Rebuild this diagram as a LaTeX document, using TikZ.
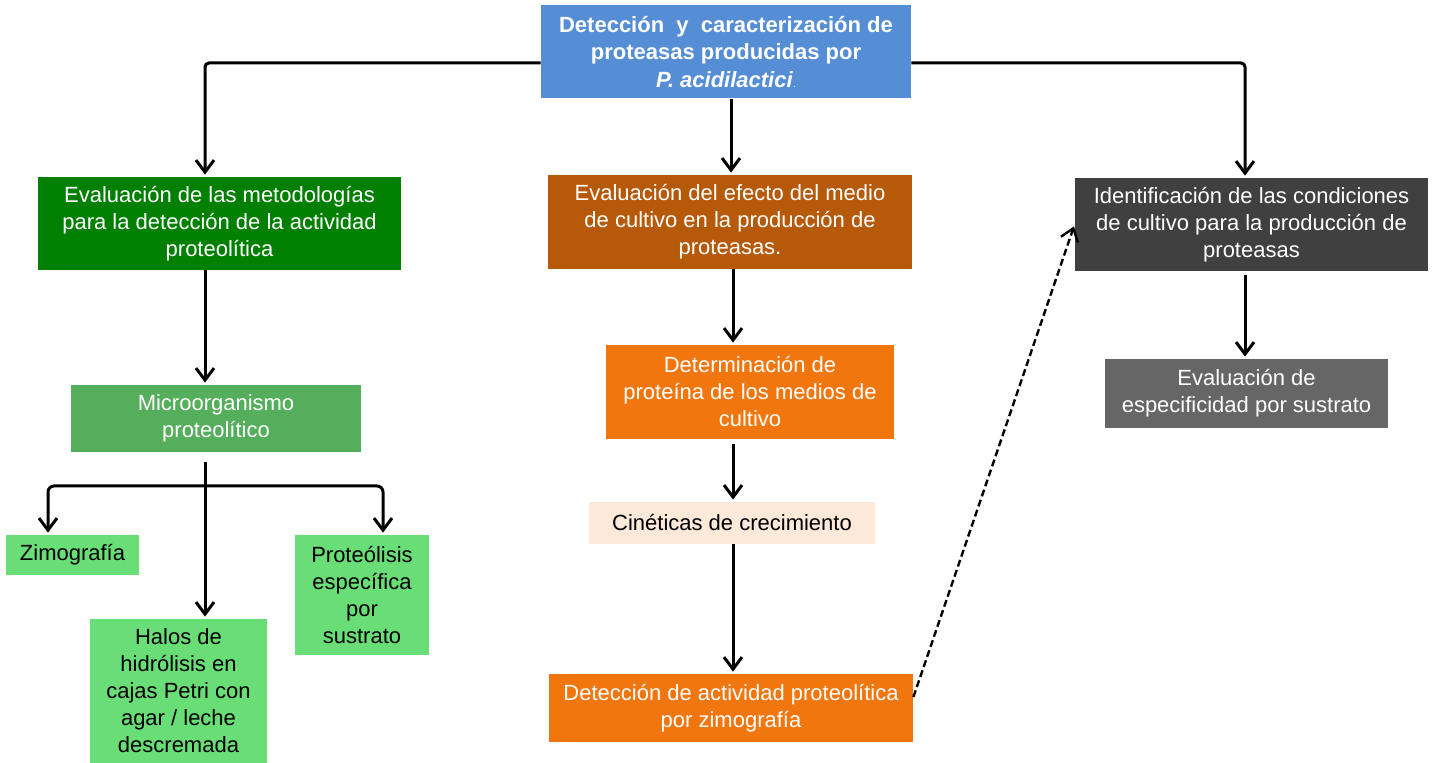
\documentclass[tikz,border=0pt]{standalone}
\usepackage{fontspec}
\setmainfont{Liberation Sans}
\usetikzlibrary{arrows.meta,calc}
\definecolor{cTop}{HTML}{558ED5}
\definecolor{cGreenD}{HTML}{007F00}
\definecolor{cGreenM}{HTML}{55AE5C}
\definecolor{cGreenL}{HTML}{6ADE76}
\definecolor{cBrown}{HTML}{B65A0A}
\definecolor{cOrange}{HTML}{F2760E}
\definecolor{cPeach}{HTML}{FDE9D9}
\definecolor{cGrayD}{HTML}{404040}
\definecolor{cGrayM}{HTML}{666666}
\begin{document}
\begin{tikzpicture}[x=0.5pt,y=-0.5pt,
  barb/.tip={Straight Barb[length=6pt,width=9pt]},
  box/.style={rectangle, inner sep=0pt, align=center, font=\fontsize{11}{13.5}\selectfont},
  wbox/.style={box, text=white},
  kbox/.style={box, text=black},
  arr/.style={line width=1.5pt, -barb, shorten >=1pt},
  conn/.style={line width=1.5pt}]
\useasboundingbox (0,0) rectangle (1434,763);

% nodes
\node[wbox, fill=cTop, minimum width=185pt, minimum height=46.5pt, font=\fontsize{11}{13.75}\selectfont\bfseries] (T) at (726,52)
  {Detección\ \ y\ \ caracterización de\\ proteasas producidas por\\ \textit{P. acidilactici}{\mdseries\tiny .}};

\node[wbox, fill=cGreenD, minimum width=181.5pt, minimum height=46.5pt] (A) at (219.5,223.5)
  {Evaluación de las metodologías\\ para la detección de la actividad\\ proteolítica};
\node[wbox, fill=cGreenM, minimum width=145pt, minimum height=33.5pt] (B) at (216,418.5)
  {Microorganismo\\ proteolítico};
\node[kbox, fill=cGreenL, minimum width=66.5pt, minimum height=20pt] (Z) at (72.5,555)
  {Zimografía};
\node[kbox, fill=cGreenL, minimum width=88.5pt, minimum height=72pt] (Hal) at (178.5,691)
  {Halos de\\ hidrólisis en\\ cajas Petri con\\ agar / leche\\ descremada};
\node[kbox, fill=cGreenL, minimum width=67pt, minimum height=60pt] (P) at (362,595)
  {Proteólisis\\ específica\\ por\\ sustrato};

\node[wbox, fill=cBrown, minimum width=182pt, minimum height=47pt] (C) at (730,222)
  {Evaluación del efecto del medio\\ de cultivo en la producción de\\ proteasas.};
\node[wbox, fill=cOrange, minimum width=144pt, minimum height=47pt] (D) at (750,392)
  {Determinación de\\ proteína de los medios de\\ cultivo};
\node[kbox, fill=cPeach, minimum width=143pt, minimum height=21pt] (E) at (732,523)
  {Cinéticas de crecimiento};
\node[wbox, fill=cOrange, minimum width=182pt, minimum height=34pt] (F) at (731,708)
  {Detección de actividad proteolítica\\ por zimografía};

\node[wbox, fill=cGrayD, minimum width=176.5pt, minimum height=46.5pt] (G) at (1251.5,224.5)
  {Identificación de las condiciones\\ de cultivo para la producción de\\ proteasas};
\node[wbox, fill=cGrayM, minimum width=141.5pt, minimum height=34.5pt] (H) at (1246.5,393.5)
  {Evaluación de\\ especificidad por sustrato};

% helper coordinates
\coordinate (tl) at (205,63);
\coordinate (tr) at (1245,63);
\coordinate (mc) at (731,0);
\coordinate (mc2) at (733,0);
\coordinate (lc) at (205,0);
\coordinate (bs) at (205,462);
\coordinate (hl) at (48,486);
\coordinate (hr) at (383,486);
\coordinate (rc) at (1245,0);
\coordinate (fs) at ($(F.east)+(0,-11)$);

% connectors
\draw[arr, rounded corners=2pt] (T.west |- tl) -- (tl) -- (tl |- A.north);
\draw[arr, rounded corners=2pt] (T.east |- tr) -- (tr) -- (tr |- G.north);
\draw[arr] (T.south -| mc) -- (C.north -| mc);
\draw[arr] (A.south -| lc) -- (B.north -| lc);
\draw[arr] (bs) -- (Hal.north -| lc);
\draw[conn, barb-barb, shorten <=1pt, shorten >=1pt, rounded corners=3pt] (Z.north -| hl) -- (hl) -- (hr) -- (P.north -| hr);
\draw[arr] (C.south -| mc2) -- (D.north -| mc2);
\draw[arr, shorten <=2.5pt] (D.south -| mc2) -- (E.north -| mc2);
\draw[arr] (E.south -| mc2) -- (F.north -| mc2);
\draw[arr, line width=1.2pt, dash pattern=on 3.5pt off 1.8pt] (fs) -- (G.west);
\draw[arr, shorten <=2pt] (G.south -| rc) -- (H.north -| rc);
\end{tikzpicture}
\end{document}
